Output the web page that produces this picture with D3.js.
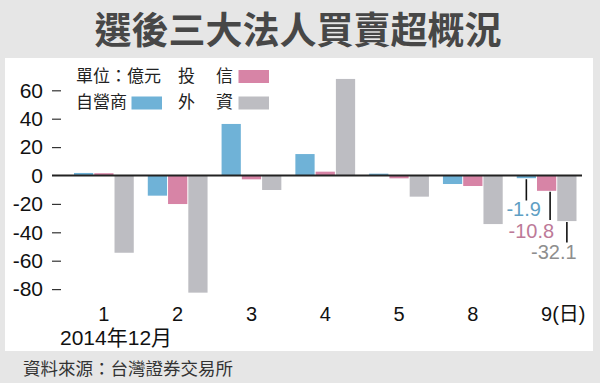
<!DOCTYPE html>
<html>
<head>
<meta charset="utf-8">
<script src="https://cdn.jsdelivr.net/npm/d3@7/dist/d3.min.js"></script>
<style>
  html, body { margin: 0; padding: 0; background: #e6e6e6; }
  svg { display: block; }
  text { font-family: "Liberation Sans", Arial, "Noto Sans CJK TC", sans-serif; }
  .cjk { font-family: "Noto Sans CJK TC", "Noto Sans CJK SC", sans-serif; }
</style>
</head>
<body>
<svg id="chart" width="600" height="383"></svg>
<script>
// ---- data ----
const title = "選後三大法人買賣超概況";
const categories = ["1", "2", "3", "4", "5", "8", "9(日)"];
const seriesNames = ["自營商", "投信", "外資"];
const dealer  = [1.8, -14.2, 36.3, 15.1, 1.3, -6.0, -1.9];
const trust   = [1.6, -20.1, -2.7, 2.7, -2.0, -7.4, -10.8];
const foreign = [-54.4, -82.5, -10.2, 68.0, -14.9, -34.2, -32.1];
const yTicks = [60, 40, 20, 0, -20, -40, -60, -80];
const unitLabel = "單位：億元";
const periodLabel = "2014年12月";
const sourceLabel = "資料來源：台灣證券交易所";
const annotatedIndex = 6;

const seriesValues = [dealer, trust, foreign];
const colors = ["#6fb2d7", "#d784a6", "#bdbdc2"];
const textColors = ["#5f9fc4", "#bd7a98", "#8e8e8e"];

const svg = d3.select("#chart");

// background panels
svg.append("rect").attr("x", 0).attr("y", 0).attr("width", 600).attr("height", 383).attr("fill", "#e6e6e6");
svg.append("rect").attr("x", 5).attr("y", 58).attr("width", 588).attr("height", 293).attr("fill", "#ffffff");

// title
svg.append("text").attr("class", "cjk")
  .attr("x", 298).attr("y", 44)
  .attr("text-anchor", "middle")
  .attr("font-size", 37).attr("font-weight", "bold")
  .attr("fill", "#474747")
  .text(title);

// scales
const x = d3.scaleBand().domain(categories).range([74, 576.5]).paddingInner(0.19).paddingOuter(0);
const xs = d3.scaleBand().domain(seriesNames).range([0, x.bandwidth()]).paddingInner(0.05);
const y = d3.scaleLinear().domain([-80, 60]).range([175.5 + 80 * 1.42, 175.5 - 60 * 1.42]);

const hyphenFmt = f => v => f(v).replace("\u2212", "-");

// y axis
const yAxis = d3.axisLeft(y).tickValues(yTicks).tickSize(9).tickPadding(9)
  .tickFormat(hyphenFmt(d3.format("d")));
const gy = svg.append("g").attr("transform", "translate(61,0)").call(yAxis);
gy.select(".domain").remove();
gy.selectAll(".tick line").attr("stroke", "#333").attr("stroke-width", 1.2)
  .attr("transform", d => d === 0 ? "scale(0)" : null);
gy.selectAll(".tick text").attr("font-size", 21).attr("fill", "#111")
  .attr("font-family", "'Liberation Sans', Arial, sans-serif");

// bars
const groups = svg.append("g").selectAll("g")
  .data(categories)
  .join("g")
  .attr("transform", d => `translate(${x(d)},0)`);

groups.selectAll("rect")
  .data((c, i) => seriesNames.map((s, j) => ({ s, j, v: seriesValues[j][i] })))
  .join("rect")
  .attr("x", d => xs(d.s))
  .attr("width", xs.bandwidth())
  .attr("y", d => y(Math.max(0, d.v)))
  .attr("height", d => Math.abs(y(d.v) - y(0)))
  .attr("fill", d => colors[d.j]);

// zero line
svg.append("line")
  .attr("x1", 52).attr("x2", 582)
  .attr("y1", y(0)).attr("y2", y(0))
  .attr("stroke", "#222").attr("stroke-width", 2);

// x labels
const xl = svg.append("g").selectAll("text")
  .data(categories)
  .join("text")
  .attr("y", 321)
  .attr("font-size", 20)
  .attr("fill", "#111")
  .text(d => d);
xl.each(function (d) {
  const w = this.getSubStringLength(0, 1);
  d3.select(this).attr("x", x(d) + x.bandwidth() / 2 - w / 2);
});

svg.append("text")
  .attr("x", 60).attr("y", 345)
  .attr("font-size", 21)
  .attr("fill", "#111")
  .text(periodLabel);

// legend
const legend = svg.append("g");
legend.append("text").attr("class", "cjk").attr("x", 76).attr("y", 82)
  .attr("font-size", 17).attr("fill", "#222").text(unitLabel);
const legendPos = [
  { tx: 76, ty: 108, sx: 131.5, sy: 96.5, spacing: 0 },
  { tx: 178, ty: 82, sx: 238.5, sy: 70, spacing: 21 },
  { tx: 178, ty: 108, sx: 238.5, sy: 96.5, spacing: 21 }
];
seriesNames.forEach((s, j) => {
  const p = legendPos[j];
  legend.append("text").attr("class", "cjk")
    .attr("x", p.tx).attr("y", p.ty)
    .attr("font-size", 17).attr("fill", "#222")
    .attr("letter-spacing", p.spacing)
    .text(s);
  legend.append("rect")
    .attr("x", p.sx).attr("y", p.sy)
    .attr("width", 30.5).attr("height", 13)
    .attr("fill", colors[j]);
});

// annotations for last day
const cat = categories[annotatedIndex];
const annot = [
  { lineEnd: 200.5, textY: 215.5, anchorDx: 14.5, lineDx: 0 },
  { lineEnd: 220, textY: 238, anchorDx: 7.5, lineDx: 3.5 },
  { lineEnd: 242.5, textY: 259, anchorDx: 9.8, lineDx: 0 }
];
const annFmt = hyphenFmt(d3.format(".1f"));
seriesNames.forEach((s, j) => {
  const v = seriesValues[j][annotatedIndex];
  const cx = x(cat) + xs(s) + xs.bandwidth() / 2;
  const a = annot[j];
  svg.append("line")
    .attr("x1", cx + a.lineDx).attr("x2", cx + a.lineDx)
    .attr("y1", y(v) + 1).attr("y2", a.lineEnd)
    .attr("stroke", "#111").attr("stroke-width", 1.6);
  svg.append("text")
    .attr("x", cx + a.anchorDx).attr("y", a.textY)
    .attr("text-anchor", "end")
    .attr("font-size", 20)
    .attr("fill", textColors[j])
    .text(annFmt(v));
});

// source
svg.append("text").attr("class", "cjk")
  .attr("x", 23).attr("y", 375)
  .attr("font-size", 17.5).attr("fill", "#333")
  .text(sourceLabel);
</script>
</body>
</html>
